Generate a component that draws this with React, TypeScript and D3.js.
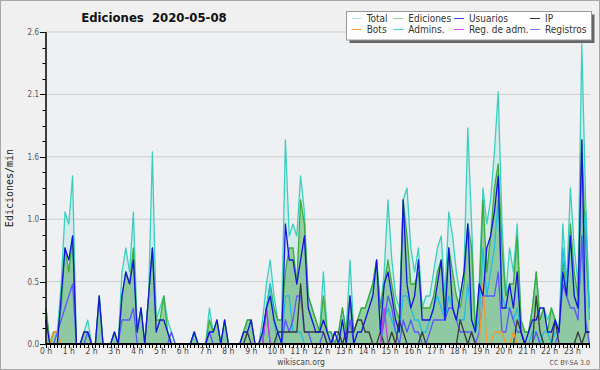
import React from "react";
import * as d3 from "d3";

// values are edits per 10-minute bin (144 bins, 0:00 .. 23:50); shown as edits/min
const PER_MIN = 10;
const total = [
  3,0,1,1,5,11, 10,14,0,0,1,2, 0,0,4,0,0,0, 1,0,6,8,6,11,
  1,3,0,4,16,2, 3,4,2,1,0,0, 0,0,0,1,0,0, 0,3,1,2,0,2,
  0,0,0,0,1,2, 2,0,0,2,5,7, 4,2,2,17,9,10, 9,14,11,4,3,2,
  1,6,1,1,0,1, 3,1,7,1,2,3, 3,4,5,7,3,6, 12,7,4,3,12,13,
  8,6,8,3,4,4, 6,8,9,4,11,9, 6,4,6,18,10,1, 5,13,10,12,16,21,
  10,4,8,6,10,2, 1,1,3,6,2,3, 2,3,2,1,10,5, 13,8,5,25,12,3,
];
const ediciones = [
  3,0,1,1,3,8, 6,9,0,0,1,1, 0,0,4,0,0,0, 1,0,4,6,5,8,
  1,3,0,4,8,2, 2,4,1,0,0,0, 0,0,0,1,0,0, 0,2,1,2,0,2,
  0,0,0,0,1,2, 2,0,0,1,3,5, 3,2,2,6,8,8, 5,12,10,4,3,2,
  1,4,1,1,0,1, 3,1,4,1,2,3, 3,4,5,7,3,5, 7,5,3,2,12,9,
  5,5,6,3,3,3, 4,6,7,3,8,6, 4,3,5,10,8,1, 4,12,6,9,13,15,
  8,4,5,5,9,2, 1,1,3,6,2,3, 1,3,2,1,7,4, 10,6,4,17,8,3,
];
const usuarios = [
  2,0,0,0,4,8, 7,9,0,0,1,1, 0,0,4,0,0,0, 1,0,4,6,5,7,
  1,3,0,4,8,1, 2,2,1,0,0,0, 0,0,0,1,0,0, 0,1,1,2,0,2,
  0,0,0,0,1,1, 2,0,0,1,3,4, 2,1,0,10,7,7, 5,7,9,3,2,1,
  1,2,1,0,1,0, 2,0,4,0,1,1, 2,3,4,7,1,5, 6,4,2,1,12,5,
  3,4,7,2,2,2, 3,5,7,2,8,3, 2,4,6,10,2,1, 5,4,8,9,11,14,
  3,3,5,3,6,1, 0,1,2,2,3,3, 1,1,2,1,6,4, 9,4,3,17,1,1,
];
const ip = [
  0,0,0,0,0,0, 0,0,0,0,0,0, 0,0,0,0,0,0, 0,0,0,0,0,0,
  0,0,0,0,0,0, 0,0,0,0,0,0, 0,0,0,0,0,0, 0,0,0,0,0,0,
  0,0,0,0,0,1, 0,0,0,0,0,0, 0,1,1,1,1,1, 1,5,1,1,1,1,
  1,1,0,0,1,1, 0,1,1,1,2,2, 1,1,0,0,1,0, 0,1,0,2,1,0,
  0,0,0,1,0,0, 0,0,0,0,0,0, 0,2,1,0,1,0, 0,0,0,0,0,0,
  0,0,0,0,2,1, 0,0,0,4,1,0, 0,0,2,0,0,0, 0,0,1,0,1,1,
];
const bots = [
  0,0,1,1,0,0, 0,0,0,0,0,0, 0,0,0,0,0,0, 0,0,0,0,0,0,
  0,0,0,0,0,0, 0,0,0,0,0,0, 0,0,0,0,0,0, 0,0,0,0,0,0,
  0,0,0,0,0,0, 0,0,0,0,0,0, 0,0,0,0,0,0, 0,0,0,0,0,0,
  0,0,0,0,0,0, 0,0,0,0,0,0, 0,0,0,0,0,0, 0,0,0,0,0,0,
  0,0,0,0,0,0, 0,0,0,0,0,0, 0,0,0,0,0,0, 0,5,0,0,1,1,
  1,0,0,1,0,0, 0,0,0,0,0,0, 0,0,0,0,0,0, 0,0,0,0,0,0,
];
const admins = [
  0,0,0,0,0,0, 0,0,0,0,0,0, 0,0,0,0,0,0, 0,0,0,0,0,0,
  0,0,0,0,0,0, 0,0,0,0,0,0, 0,0,0,1,0,0, 0,0,0,0,0,0,
  0,0,0,0,0,0, 0,0,0,0,3,5, 2,0,0,4,4,1, 1,1,0,0,0,0,
  0,0,0,0,0,0, 0,0,0,0,0,0, 0,0,0,0,0,2, 3,2,1,1,4,4,
  3,2,2,1,1,2, 3,4,3,2,4,3, 2,2,2,5,2,1, 2,8,4,6,8,12,
  4,3,3,2,3,1, 0,0,1,1,0,1, 1,0,1,1,8,5, 9,4,3,8,11,2,
];
const regAdm = [
  0,0,0,0,0,0, 0,0,0,0,0,0, 0,0,0,0,0,0, 0,0,0,0,0,0,
  0,0,0,0,0,0, 0,0,0,0,0,0, 0,0,0,0,0,0, 0,0,0,0,0,0,
  0,0,0,0,0,0, 0,0,0,0,3,0, 0,0,0,0,0,0, 0,0,0,0,0,0,
  0,0,0,0,0,0, 0,0,0,0,0,0, 0,0,0,0,0,3, 0,0,0,0,0,0,
  0,0,0,0,0,0, 0,0,0,0,0,0, 0,0,0,0,0,0, 0,0,0,0,0,0,
  0,0,0,0,0,0, 0,0,0,0,0,0, 0,0,0,0,0,0, 0,0,0,0,0,0,
];
const registros = [
  0,0,0,1,2,3, 4,5,0,0,0,1, 0,0,0,0,0,0, 0,0,2,2,2,3,
  0,0,0,0,0,0, 0,0,0,1,0,0, 0,0,0,0,0,0, 0,1,0,0,0,0,
  0,0,0,0,0,0, 0,0,0,0,3,0, 0,0,0,2,1,2, 4,4,1,1,0,0,
  0,1,0,0,0,0, 0,0,2,0,0,0, 0,0,0,0,0,2, 4,3,1,0,2,1,
  2,1,1,0,0,1, 2,2,2,2,3,3, 2,1,1,1,1,0, 1,4,4,4,4,6,
  1,1,3,2,1,1, 0,0,0,1,0,0, 0,0,0,1,5,4, 3,3,2,9,2,0,
];

const hourLabels = d3.range(24).map((h) => `${h} h`);
const yTicks = [0, 0.52, 1.04, 1.56, 2.08, 2.6];
const yTickLabels = ["0.0", "0.5", "1.0", "1.6", "2.1", "2.6"];

const C = {
  total: "#3ccfc0",
  ediciones: "#3caa3c",
  usuarios: "#1414dc",
  ip: "#3a3a3a",
  bots: "#f29a2e",
  admins: "#22bedd",
  regAdm: "#c43ee0",
  registros: "#5858ff",
};

const legendItems = [
  { label: "Total", color: "#aee8e2" },
  { label: "Ediciones", color: "#8ed48e" },
  { label: "Usuarios", color: "#3c3ce0" },
  { label: "IP", color: "#333333" },
  { label: "Bots", color: "#f5a441" },
  { label: "Admins.", color: "#44cce0" },
  { label: "Reg. de adm.", color: "#d44ae6" },
  { label: "Registros", color: "#7a7aff" },
];

export default function App() {
  const x = d3.scaleLinear().domain([0, 143]).range([46, 589.4]);
  const y = d3.scaleLinear().domain([0, 2.6]).range([344, 32]);
  const v = (arr: number[]) => arr.map((c) => c / PER_MIN);

  const line = d3
    .line<number>()
    .x((_, i) => x(i))
    .y((d) => y(d));
  const area = d3
    .area<number>()
    .x((_, i) => x(i))
    .y0(y(0))
    .y1((d) => y(d));

  const minor = d3.range(0, 2.6001, 0.13);
  const font = "'DejaVu Sans Condensed', 'DejaVu Sans', sans-serif";
  const legCols = [351.7, 393.3, 454, 530];
  const legRows = [18.5, 29.5];

  return (
    <svg
      width={600}
      height={370}
      style={{ position: "absolute", left: 0, top: 0, display: "block" }}
    >
      <rect x={0} y={0} width={600} height={370} fill="#f0f0f0" />
      <rect x={0.5} y={0.5} width={599} height={369} fill="none" stroke="#a8a8a8" />
      <rect x={46} y={32} width={544} height={312} fill="#eef0f2" />

      {yTicks.slice(1).map((t) => (
        <line key={t} x1={46} x2={590} y1={y(t)} y2={y(t)} stroke="#cdcdcd" strokeWidth={1} />
      ))}

      {/* fills */}
      <path d={area(v(total)) || ""} fill={C.total} fillOpacity={0.15} />
      <path d={area(v(ediciones)) || ""} fill="#62bc62" fillOpacity={0.55} />
      <path d={area(v(usuarios)) || ""} fill="#5070d0" fillOpacity={0.08} />

      {/* lines */}
      <g fill="none" strokeWidth={1.3} strokeLinejoin="round">
        <path d={line(v(total)) || ""} stroke={C.total} />
        <path d={line(v(ediciones)) || ""} stroke={C.ediciones} />
        <path d={line(v(admins)) || ""} stroke={C.admins} />
        <path d={line(v(registros)) || ""} stroke={C.registros} />
        <path d={line(v(ip)) || ""} stroke={C.ip} />
        <path d={line(v(bots)) || ""} stroke={C.bots} />
        <path d={line(v(regAdm)) || ""} stroke={C.regAdm} />
        <path d={line(v(usuarios)) || ""} stroke={C.usuarios} />
      </g>

      {/* y axis */}
      <line x1={46} x2={46} y1={32} y2={344.5} stroke="#000" strokeWidth={1.5} />
      {minor.map((t, i) => (
        <line
          key={i}
          x1={i % 4 === 0 ? 40 : 42.5}
          x2={46}
          y1={Math.round(y(t)) + 0.5}
          y2={Math.round(y(t)) + 0.5}
          stroke="#000"
          strokeWidth={1}
        />
      ))}
      {yTicks.map((t, i) => (
        <text
          key={t}
          x={39}
          y={y(t) + 3}
          textAnchor="end"
          fontFamily={font}
          fontSize={8}
          fill="#555"
        >
          {yTickLabels[i]}
        </text>
      ))}
      <text
        transform="translate(13,188) rotate(-90)"
        textAnchor="middle"
        fontFamily="'DejaVu Sans Mono', monospace"
        fontSize={10}
        fill="#222"
      >
        Ediciones/min
      </text>

      {/* x axis */}
      <line x1={45.5} x2={590} y1={344} y2={344} stroke="#000" strokeWidth={2} />
      {d3.range(0, 144).map((i) => (
        <line
          key={i}
          x1={Math.round(x(i)) + 0.5}
          x2={Math.round(x(i)) + 0.5}
          y1={344}
          y2={348}
          stroke="#000"
          strokeWidth={1}
        />
      ))}
      {hourLabels.map((l, h) => (
        <text
          key={l}
          x={x(h * 6) + (h >= 10 ? 2 : 0)}
          y={353.5}
          textAnchor="middle"
          fontFamily={font}
          fontSize={8.5}
          fill="#444"
        >
          {l}
        </text>
      ))}

      {/* title */}
      <text
        x={154}
        y={22}
        textAnchor="middle"
        fontFamily={font}
        fontWeight="bold"
        fontSize={13}
        fill="#111"
      >
        {"Ediciones\u00a0\u00a02020-05-08"}
      </text>

      <text x={301} y={364.5} textAnchor="middle" fontFamily={font} fontSize={8.5} fill="#444">
        wikiscan.org
      </text>
      <text x={590} y={365} textAnchor="end" fontFamily={font} fontSize={7} fill="#555">
        CC BY-SA 3.0
      </text>

      {/* legend */}
      <rect x={349.5} y={14.5} width={245} height={28.5} fill="#666" />
      <rect x={346.5} y={11.5} width={245} height={28.5} fill="#fff" stroke="#9a9a9a" />
      {legendItems.map((it, i) => {
        const cx = legCols[i % 4];
        const cy = legRows[Math.floor(i / 4)];
        return (
          <g key={it.label}>
            <line x1={cx} x2={cx + 10} y1={cy} y2={cy} stroke={it.color} strokeWidth={1} />
            <text x={cx + 15} y={cy + 3.5} fontFamily={font} fontSize={10} fill="#333">
              {it.label}
            </text>
          </g>
        );
      })}
    </svg>
  );
}
